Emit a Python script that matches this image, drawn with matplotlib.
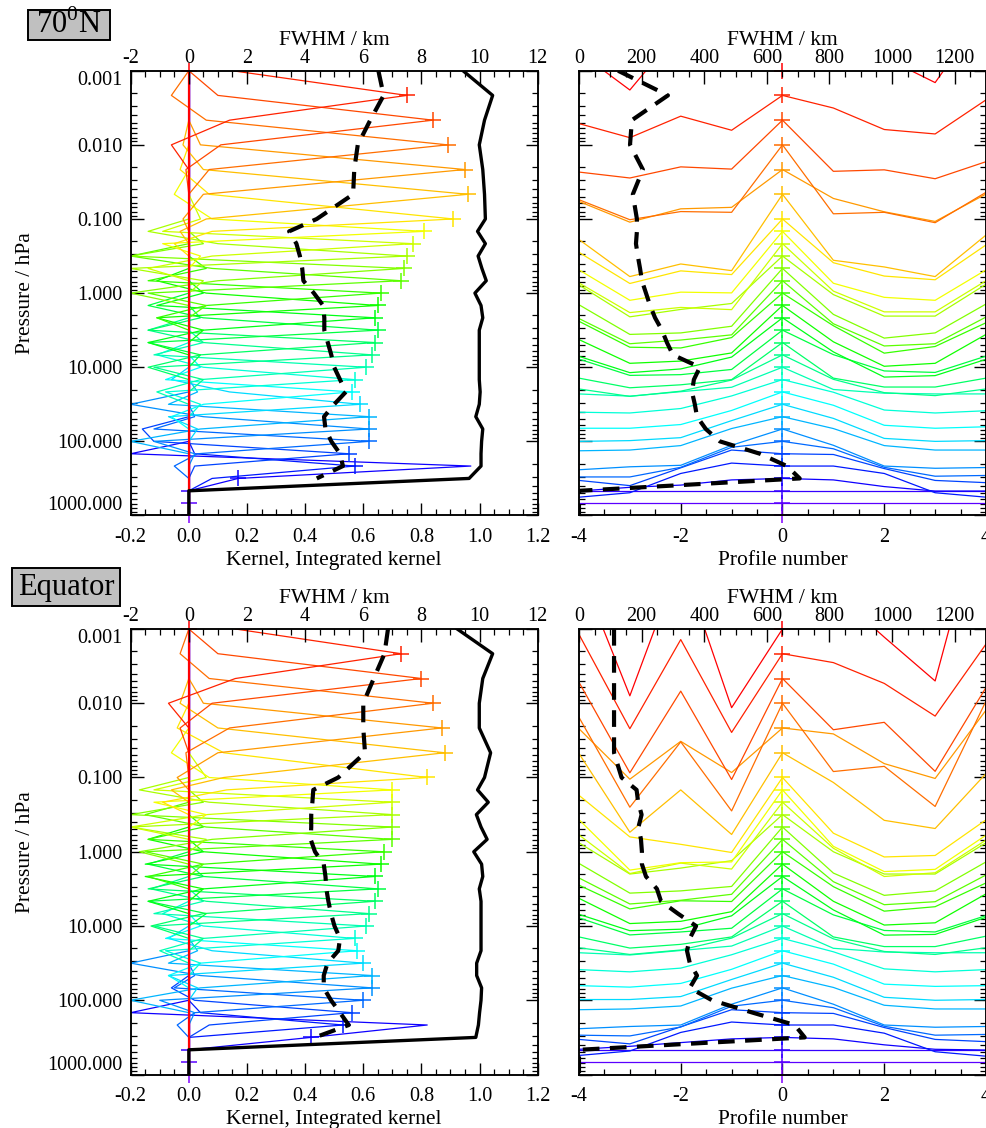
import numpy as np
import matplotlib
matplotlib.use("Agg")
import matplotlib.pyplot as plt
from matplotlib.patches import Rectangle
from matplotlib.ticker import (FixedLocator, MultipleLocator, LogLocator,
                               NullFormatter, FormatStrFormatter)

plt.rcParams["font.family"] = ["Liberation Serif", "DejaVu Serif"]
plt.rcParams["mathtext.fontset"] = "custom"
plt.rcParams["mathtext.rm"] = "Liberation Serif"
plt.rcParams["axes.unicode_minus"] = False
plt.rcParams["axes.linewidth"] = 1.1

# retrieval grid, log10(pressure / hPa)
LOG_P = [-3.0, -2.667, -2.333, -2.0, -1.667, -1.333, -1.0, -0.833, -0.667, -0.5,
         -0.333, -0.167, 0.0, 0.167, 0.333, 0.5, 0.667, 0.833, 1.0, 1.167, 1.333,
         1.5, 1.667, 1.833, 2.0, 2.167, 2.333, 2.5, 2.667, 2.833, 3.0]
PROFILES = [-4, -3, -2, -1, 0, 1, 2, 3, 4]
DECADES = [0.001, 0.01, 0.1, 1.0, 10.0, 100.0, 1000.0]

# vertical kernels: values at levels j-2 .. j+2 (centre = value at own level)
BAND_70N = [
    [0.00, 0.00, 0.00, 0.00, 0.00],
    [0.00, 0.15, 0.75, 0.14, -0.06],
    [0.00, 0.10, 0.84, 0.11, -0.01],
    [-0.06, 0.06, 0.89, 0.07, 0.00],
    [0.00, 0.04, 0.95, 0.05, -0.02],
    [-0.02, 0.05, 0.96, 0.06, -0.03],
    [-0.03, 0.07, 0.91, 0.08, -0.05],
    [-0.05, 0.08, 0.81, -0.09, 0.04],
    [0.04, -0.09, 0.77, 0.08, -0.14],
    [-0.14, 0.10, 0.75, -0.20, 0.05],
    [0.05, -0.20, 0.74, 0.10, -0.20],
    [-0.20, 0.08, 0.73, -0.14, 0.06],
    [0.06, -0.14, 0.66, 0.06, -0.11],
    [-0.11, 0.06, 0.65, -0.11, 0.05],
    [0.05, -0.11, 0.64, 0.05, -0.14],
    [-0.14, 0.05, 0.65, -0.14, 0.04],
    [0.04, -0.14, 0.64, 0.04, -0.14],
    [-0.14, 0.05, 0.63, -0.12, 0.05],
    [0.05, -0.12, 0.61, 0.04, -0.11],
    [-0.11, 0.05, 0.57, -0.08, 0.04],
    [0.04, -0.08, 0.56, 0.05, -0.06],
    [-0.06, 0.14, 0.59, -0.07, 0.03],
    [0.03, -0.07, 0.62, 0.04, -0.20],
    [-0.20, 0.05, 0.62, -0.12, 0.02],
    [0.02, -0.12, 0.62, 0.03, -0.05],
    [-0.16, -0.12, 0.55, 0.02, 0.00],
    [0.00, 0.02, 0.57, 0.08, 0.00],
    [-0.20, 0.97, 0.17, 0.00, 0.00],
    [0.00, 0.00, 0.00, 0.00, 0.00],
    [0.00, 0.00, 0.00, 0.00, 0.00],
    [0.00, 0.00, 0.00, 0.00, 0.00],
]
BAND_EQ = [
    [0.00, 0.00, 0.00, 0.00, 0.00],
    [0.00, 0.16, 0.73, 0.16, -0.07],
    [0.00, 0.10, 0.80, 0.08, -0.03],
    [-0.03, 0.07, 0.84, 0.14, -0.01],
    [0.00, 0.05, 0.87, 0.10, -0.04],
    [-0.03, 0.10, 0.88, 0.12, -0.06],
    [-0.04, 0.12, 0.82, 0.13, -0.09],
    [-0.06, 0.07, 0.70, -0.12, 0.06],
    [0.06, -0.12, 0.70, 0.06, -0.20],
    [-0.17, 0.07, 0.70, -0.20, 0.06],
    [0.05, -0.20, 0.70, 0.08, -0.17],
    [-0.15, 0.06, 0.70, -0.15, 0.05],
    [0.05, -0.14, 0.67, 0.05, -0.14],
    [-0.14, 0.05, 0.66, -0.15, 0.05],
    [0.05, -0.15, 0.64, 0.05, -0.14],
    [-0.14, 0.05, 0.65, -0.14, 0.06],
    [0.05, -0.14, 0.64, 0.05, -0.13],
    [-0.13, 0.06, 0.62, -0.12, 0.05],
    [0.05, -0.12, 0.61, 0.05, -0.10],
    [-0.09, 0.05, 0.57, -0.08, 0.04],
    [0.04, -0.08, 0.58, 0.04, -0.07],
    [-0.07, 0.08, 0.60, -0.07, 0.03],
    [0.03, -0.07, 0.63, 0.04, -0.20],
    [-0.20, 0.04, 0.63, -0.10, 0.02],
    [0.02, -0.05, 0.60, 0.02, -0.04],
    [-0.06, 0.02, 0.56, 0.07, 0.00],
    [0.00, 0.04, 0.53, 0.00, 0.00],
    [-0.20, 0.82, 0.42, 0.00, 0.00],
    [0.00, 0.00, 0.00, 0.00, 0.00],
    [0.00, 0.00, 0.00, 0.00, 0.00],
    [0.00, 0.00, 0.00, 0.00, 0.00],
]

INTEGRATED_70N = [0.943, 1.045, 1.017, 0.999, 1.011, 1.017, 1.020, 0.993, 1.020, 0.995,
                  1.008, 1.023, 0.984, 1.005, 1.011, 0.999, 0.999, 0.999, 0.999, 0.999,
                  1.002, 0.999, 0.987, 1.011, 1.007, 1.005, 1.005, 0.964, 0.0, 0.0, 0.0]
INTEGRATED_EQ = [0.923, 1.045, 1.011, 0.999, 0.999, 1.038, 1.017, 0.993, 1.030, 0.989,
                 1.005, 1.026, 0.980, 1.007, 1.011, 0.999, 1.005, 1.005, 1.005, 1.005,
                 1.005, 0.990, 0.990, 1.007, 1.005, 1.000, 0.996, 0.987, 0.0, 0.0, 0.0]

# vertical resolution (km)
FWHM_VERT_70N = [6.52, 6.70, 6.24, 5.81, 5.69, 5.65, 4.40, 3.45, 3.70, 3.82, 3.90, 3.94,
                 4.30, 4.62, 4.66, 4.66, 4.78, 4.90, 5.00, 5.20, 5.40, 5.00, 4.65, 4.70,
                 4.90, 5.20, 5.30, 4.40, np.nan, np.nan, np.nan]
FWHM_VERT_EQ = [6.85, 6.73, 6.36, 6.00, 6.00, 6.06, 5.14, 4.28, 4.25, 4.21, 4.21, 4.19,
                4.34, 4.64, 4.70, 4.73, 4.80, 4.89, 5.01, 5.20, 5.14, 4.77, 4.64, 4.64,
                4.89, 5.20, 5.50, 4.34, np.nan, np.nan, np.nan]

# horizontal resolution (km)
FWHM_HOR_70N = [125, 284, 169, 163, 204, 172, 185, 185, 182, 188, 195, 201, 214, 227, 243,
                265, 281, 300, 386, 367, 361, 370, 377, 405, 450, 578, 664, 705, 0, 0, 0]
FWHM_HOR_EQ = [112, 112, 112, 112, 112, 112, 136, 184, 189, 200, 190, 198, 201, 201, 214,
               249, 262, 316, 374, 354, 345, 354, 377, 354, 425, 555, 689, 721, 0, 0, 0]

# horizontal kernels: shift below own level (decades) at profiles -4..4
HOR_70N = [
    [-0.25, 0.26, -0.56, -0.54, 0, -0.54, -0.18, 0.16, -0.81],
    [0.38, 0.57, 0.28, 0.47, 0, 0.17, 0.46, 0.52, 0.06],
    [0.70, 0.78, 0.63, 0.66, 0, 0.69, 0.67, 0.79, 0.56],
    [0.74, 1.01, 0.90, 0.91, 0, 0.93, 0.91, 1.05, 0.64],
    [0.43, 0.71, 0.53, 0.51, 0, 0.39, 0.57, 0.70, 0.33],
    [0.61, 1.11, 0.94, 1.03, 0, 0.89, 0.98, 1.11, 0.55],
    [0.45, 0.87, 0.70, 0.75, 0, 0.59, 0.77, 0.82, 0.35],
    [0.52, 0.93, 0.82, 0.83, 0, 0.70, 0.89, 0.93, 0.52],
    [0.53, 0.93, 0.86, 0.89, 0, 0.64, 0.92, 0.92, 0.50],
    [0.39, 0.82, 0.72, 0.64, 0, 0.52, 0.81, 0.81, 0.38],
    [0.49, 0.89, 0.87, 0.78, 0, 0.62, 0.94, 0.87, 0.48],
    [0.51, 0.85, 0.80, 0.73, 0, 0.58, 0.88, 0.85, 0.49],
    [0.38, 0.73, 0.74, 0.60, 0, 0.44, 0.81, 0.72, 0.40],
    [0.46, 0.78, 0.75, 0.64, 0, 0.49, 0.82, 0.78, 0.39],
    [0.52, 0.74, 0.69, 0.53, 0, 0.46, 0.80, 0.78, 0.56],
    [0.39, 0.61, 0.60, 0.53, 0, 0.33, 0.55, 0.57, 0.35],
    [0.48, 0.61, 0.57, 0.50, 0, 0.48, 0.60, 0.60, 0.48],
    [0.46, 0.56, 0.49, 0.34, 0, 0.33, 0.51, 0.55, 0.46],
    [0.36, 0.39, 0.33, 0.27, 0, 0.30, 0.35, 0.36, 0.36],
    [0.44, 0.45, 0.39, 0.22, 0, 0.17, 0.41, 0.45, 0.42],
    [0.49, 0.49, 0.44, 0.25, 0, 0.18, 0.45, 0.49, 0.47],
    [0.50, 0.49, 0.45, 0.22, 0, 0.19, 0.46, 0.50, 0.49],
    [0.46, 0.45, 0.39, 0.16, 0, 0.16, 0.39, 0.45, 0.45],
    [0.55, 0.51, 0.49, 0.22, 0, 0.22, 0.50, 0.53, 0.52],
    [0.48, 0.48, 0.35, 0.08, 0, 0.10, 0.35, 0.47, 0.46],
    [0.36, 0.43, 0.19, -0.05, 0, 0.01, 0.20, 0.36, 0.39],
    [0.42, 0.36, 0.10, -0.04, 0, 0.00, 0.10, 0.36, 0.42],
    [0.17, 0.12, 0.09, 0.02, 0, 0.02, 0.11, 0.17, 0.17],
    [0, 0, 0, 0, 0, 0, 0, 0, 0],
    [0, 0, 0, 0, 0, 0, 0, 0, 0],
    [0, 0, 0, 0, 0, 0, 0, 0, 0],
]
HOR_EQ = [
    [-0.82, 0.90, -0.94, 1.06, 0, -0.50, 0.11, 0.70, -1.84],
    [-0.26, 1.01, -0.19, 1.06, 0, 0.12, 0.40, 0.84, -0.13],
    [0.05, 1.27, 0.17, 1.36, 0, 0.69, 0.59, 1.25, 0.12],
    [0.19, 1.40, 0.52, 1.45, 0, 0.92, 0.85, 1.39, -0.03],
    [0.01, 0.69, 0.18, 0.60, 0, 0.08, 0.48, 0.68, -0.24],
    [0.01, 1.07, 0.50, 1.10, 0, 0.40, 0.91, 1.02, 0.28],
    [0.24, 0.80, 0.90, 1.01, 0, 0.75, 1.07, 1.05, 0.57],
    [0.40, 1.08, 0.98, 0.97, 0, 0.76, 1.10, 1.07, 0.61],
    [0.44, 0.96, 0.82, 0.90, 0, 0.62, 1.00, 0.95, 0.51],
    [0.38, 0.80, 0.72, 0.62, 0, 0.50, 0.80, 0.80, 0.38],
    [0.49, 0.89, 0.86, 0.80, 0, 0.62, 0.92, 0.86, 0.47],
    [0.52, 0.87, 0.82, 0.74, 0, 0.57, 0.88, 0.84, 0.48],
    [0.45, 0.77, 0.66, 0.67, 0, 0.47, 0.80, 0.74, 0.42],
    [0.46, 0.80, 0.77, 0.64, 0, 0.50, 0.82, 0.79, 0.40],
    [0.51, 0.73, 0.71, 0.53, 0, 0.45, 0.79, 0.78, 0.55],
    [0.39, 0.62, 0.58, 0.53, 0, 0.35, 0.56, 0.58, 0.36],
    [0.48, 0.63, 0.58, 0.48, 0, 0.48, 0.61, 0.61, 0.47],
    [0.46, 0.55, 0.49, 0.33, 0, 0.34, 0.51, 0.55, 0.46],
    [0.36, 0.39, 0.33, 0.27, 0, 0.30, 0.35, 0.36, 0.36],
    [0.42, 0.45, 0.40, 0.22, 0, 0.18, 0.41, 0.45, 0.42],
    [0.47, 0.49, 0.44, 0.25, 0, 0.18, 0.45, 0.48, 0.47],
    [0.49, 0.49, 0.45, 0.22, 0, 0.19, 0.46, 0.50, 0.49],
    [0.46, 0.45, 0.41, 0.17, 0, 0.16, 0.40, 0.45, 0.45],
    [0.55, 0.52, 0.50, 0.22, 0, 0.22, 0.50, 0.53, 0.52],
    [0.47, 0.48, 0.36, 0.08, 0, 0.10, 0.35, 0.47, 0.46],
    [0.36, 0.42, 0.19, -0.04, 0, 0.01, 0.20, 0.36, 0.39],
    [0.41, 0.35, 0.10, -0.04, 0, 0.00, 0.11, 0.36, 0.42],
    [0.16, 0.12, 0.07, 0.02, 0, 0.02, 0.10, 0.16, 0.17],
    [0, 0, 0, 0, 0, 0, 0, 0, 0],
    [0, 0, 0, 0, 0, 0, 0, 0, 0],
    [0, 0, 0, 0, 0, 0, 0, 0, 0],
]

FS = 14.5
LFS = 15.5
DASH = (0, (4, 2.5))


def level_colour(j):
    return plt.cm.gist_rainbow(0.03 + 0.0277 * j)


def pressure_axis(ax, labels):
    ax.set_yscale("log")
    ax.set_ylim(1000, 0.001)
    ax.yaxis.set_major_locator(FixedLocator(DECADES))
    ax.yaxis.set_minor_locator(LogLocator(base=10, subs=np.arange(2, 10), numticks=20))
    ax.yaxis.set_minor_formatter(NullFormatter())
    if labels:
        ax.yaxis.set_major_formatter(FormatStrFormatter("%.3f"))
        ax.set_ylabel("Pressure / hPa", fontsize=LFS)
        ax.yaxis.set_label_coords(-0.235, 0.5)
    else:
        ax.yaxis.set_major_formatter(NullFormatter())
    ax.tick_params(axis="y", which="both", direction="in", left=True, right=True,
                   labelleft=labels, labelsize=FS, pad=6)
    ax.tick_params(axis="x", which="both", direction="in", top=False, bottom=True,
                   labelsize=FS, pad=9)
    ax.tick_params(which="major", length=9, width=1.0)
    ax.tick_params(which="minor", length=4.5, width=0.9)
    if labels:
        ticks = ax.yaxis.get_major_ticks()
        ticks[0].label1.set_va("top")
        ticks[-1].label1.set_va("bottom")


def top_axis(ax, lim, major, minor):
    top = ax.twiny()
    top.set_xlim(*lim)
    top.xaxis.set_major_locator(FixedLocator(major))
    top.xaxis.set_minor_locator(MultipleLocator(minor))
    top.xaxis.set_major_formatter(FormatStrFormatter("%d"))
    top.tick_params(axis="x", which="both", direction="in", top=True, bottom=False,
                    labeltop=True, labelbottom=False, labelsize=FS, pad=2)
    top.tick_params(which="major", length=9, width=1.0)
    top.tick_params(which="minor", length=4.5, width=0.9)
    top.set_xlabel("FWHM / km", fontsize=LFS)
    top.xaxis.set_label_coords(0.5, 1.058)
    return top


def kernel_panel(ax, band, integrated, fwhm):
    pres = 10.0 ** np.array(LOG_P)
    n = len(LOG_P)
    for j in range(n - 1, -1, -1):
        vals = np.zeros(n)
        for k, v in enumerate(band[j]):
            i = j - 2 + k
            if 0 <= i < n:
                vals[i] = v
        ax.plot(vals, pres, color=level_colour(j), lw=1.6 if j == 0 else 0.9)
        ax.plot([band[j][2]], [pres[j]], "+", color=level_colour(j), ms=11, mew=1.1,
                clip_on=False)
    ax.plot(integrated, pres, color="k", lw=2.4)
    ax.set_xlim(-0.2, 1.2)
    ax.xaxis.set_major_locator(FixedLocator([-0.2, 0.0, 0.2, 0.4, 0.6, 0.8, 1.0, 1.2]))
    ax.xaxis.set_minor_locator(MultipleLocator(0.05))
    ax.xaxis.set_major_formatter(FormatStrFormatter("%.1f"))
    ax.set_xlabel("Kernel, Integrated kernel", fontsize=LFS)
    ax.xaxis.set_label_coords(0.5, -0.080)
    pressure_axis(ax, True)
    top = top_axis(ax, (-2, 12), [-2, 0, 2, 4, 6, 8, 10, 12], 0.5)
    top.plot(fwhm, pres, color="k", lw=3, ls=DASH)


def profile_panel(ax, shifts, fwhm):
    pres = 10.0 ** np.array(LOG_P)
    n = len(LOG_P)
    for j in range(n - 1, -1, -1):
        y = 10.0 ** (LOG_P[j] + np.array(shifts[j]))
        ax.plot(PROFILES, y, color=level_colour(j), lw=0.9)
        ax.plot([0], [pres[j]], "+", color=level_colour(j), ms=11, mew=1.1,
                clip_on=False)
    ax.set_xlim(-4, 4)
    ax.xaxis.set_major_locator(FixedLocator([-4, -2, 0, 2, 4]))
    ax.xaxis.set_minor_locator(MultipleLocator(0.5))
    ax.xaxis.set_major_formatter(FormatStrFormatter("%d"))
    ax.set_xlabel("Profile number", fontsize=LFS)
    ax.xaxis.set_label_coords(0.5, -0.080)
    pressure_axis(ax, False)
    top = top_axis(ax, (0, 1300), [0, 200, 400, 600, 800, 1000, 1200], 50)
    top.plot(fwhm, pres, color="k", lw=3, ls=DASH)


def tag(fig, x0, y0, w, h, text):
    W, H = 987.0, 1128.0
    fig.add_artist(Rectangle((x0 / W, 1 - (y0 + h) / H), w / W, h / H,
                             transform=fig.transFigure, facecolor="#c0c0c0",
                             edgecolor="k", lw=1.4))
    fig.text((x0 + w / 2) / W, 1 - (y0 + h / 2) / H, text, fontsize=22,
             ha="center", va="center")


fig = plt.figure(figsize=(9.87, 11.28), dpi=100)

ax_tl = fig.add_axes([0.1324, 0.5430, 0.4124, 0.3943])
ax_tr = fig.add_axes([0.5866, 0.5430, 0.4124, 0.3943])
ax_bl = fig.add_axes([0.1324, 0.0474, 0.4124, 0.3950])
ax_br = fig.add_axes([0.5866, 0.0474, 0.4124, 0.3950])

kernel_panel(ax_tl, BAND_70N, INTEGRATED_70N, FWHM_VERT_70N)
profile_panel(ax_tr, HOR_70N, FWHM_HOR_70N)
kernel_panel(ax_bl, BAND_EQ, INTEGRATED_EQ, FWHM_VERT_EQ)
profile_panel(ax_br, HOR_EQ, FWHM_HOR_EQ)

tag(fig, 28, 10, 82, 30, r"70$^\mathrm{0}$N")
tag(fig, 12, 568, 108, 38, "Equator")

fig.savefig("out.png", dpi=100)
